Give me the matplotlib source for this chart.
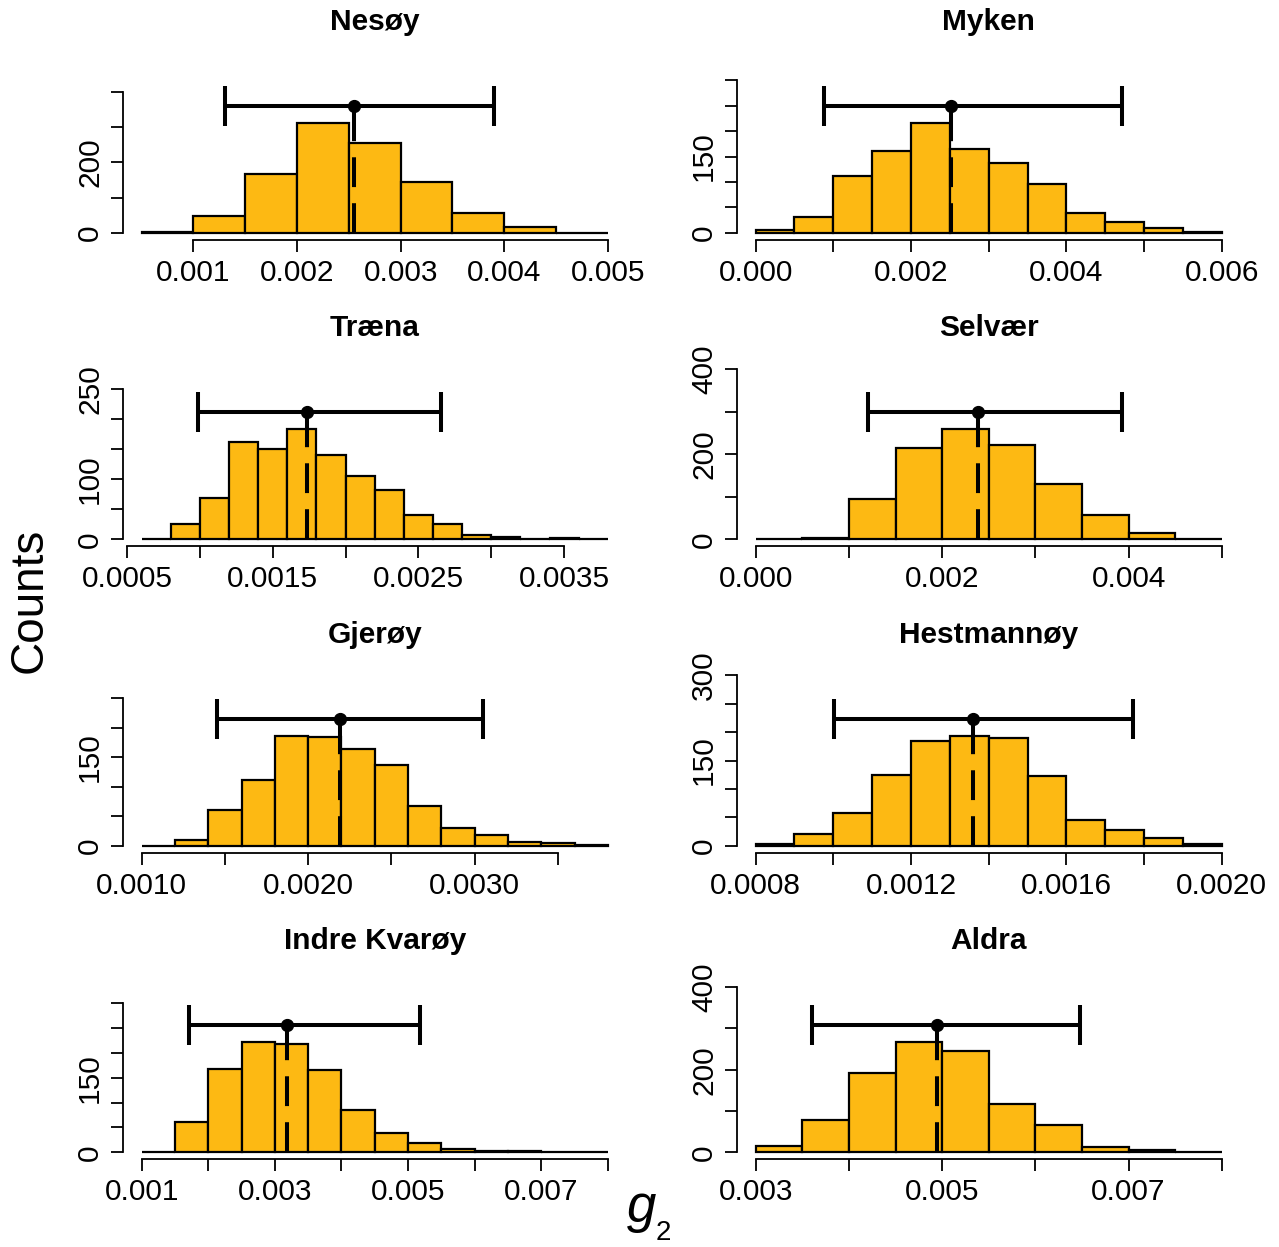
import matplotlib
matplotlib.use("Agg")
import matplotlib.pyplot as plt
import numpy as np

plt.rcParams['font.family'] = ['Liberation Sans', 'DejaVu Sans']

# one entry per island, row by row
names = ['Nesøy', 'Myken', 'Træna', 'Selvær',
         'Gjerøy', 'Hestmannøy', 'Indre Kvarøy', 'Aldra']
bin_start = [0.0005, 0.0, 0.0006, 0.0, 0.0010, 0.0008, 0.0010, 0.0030]
bin_width = [0.0005, 0.0005, 0.0002, 0.0005, 0.0002, 0.0001, 0.0005, 0.0005]
counts = [
    [1, 47, 166, 313, 254, 145, 57, 16, 0],
    [5, 32, 112, 160, 217, 164, 137, 97, 38, 22, 9, 1],
    [1, 25, 69, 163, 151, 184, 140, 105, 82, 41, 25, 7, 4, 0, 2, 0],
    [0, 3, 94, 214, 259, 222, 131, 56, 14, 1],
    [0, 9, 60, 111, 187, 184, 165, 137, 68, 31, 18, 7, 5, 1],
    [4, 21, 58, 125, 185, 194, 190, 123, 46, 27, 14, 3],
    [0, 62, 168, 222, 219, 166, 85, 39, 18, 6, 3, 2, 1, 0],
    [16, 77, 193, 267, 246, 116, 65, 13, 5, 0],
]
means = [0.00255, 0.00252, 0.001734, 0.00238, 0.002192, 0.00136, 0.003179, 0.00495]
ci_lo = [0.0013, 0.00088, 0.00099, 0.0012, 0.001453, 0.001001, 0.001709, 0.0036]
ci_hi = [0.0039, 0.00471, 0.002658, 0.00393, 0.003053, 0.001772, 0.005184, 0.006478]

x_ticks = [
    [0.001, 0.002, 0.003, 0.004, 0.005],
    [0.000, 0.001, 0.002, 0.003, 0.004, 0.005, 0.006],
    [0.0005, 0.0010, 0.0015, 0.0020, 0.0025, 0.0030, 0.0035],
    [0.000, 0.001, 0.002, 0.003, 0.004, 0.005],
    [0.0010, 0.0015, 0.0020, 0.0025, 0.0030, 0.0035],
    [0.0008, 0.0010, 0.0012, 0.0014, 0.0016, 0.0018, 0.0020],
    [0.001, 0.002, 0.003, 0.004, 0.005, 0.006, 0.007, 0.008],
    [0.003, 0.004, 0.005, 0.006, 0.007, 0.008],
]
x_labels = [
    ['0.001', '0.002', '0.003', '0.004', '0.005'],
    ['0.000', '', '0.002', '', '0.004', '', '0.006'],
    ['0.0005', '', '0.0015', '', '0.0025', '', '0.0035'],
    ['0.000', '', '0.002', '', '0.004', ''],
    ['0.0010', '', '0.0020', '', '0.0030', ''],
    ['0.0008', '', '0.0012', '', '0.0016', '', '0.0020'],
    ['0.001', '', '0.003', '', '0.005', '', '0.007', ''],
    ['0.003', '', '0.005', '', '0.007', ''],
]
y_ticks = [
    [0, 100, 200, 300, 400],
    [0, 50, 100, 150, 200, 250, 300],
    [0, 50, 100, 150, 200, 250],
    [0, 100, 200, 300, 400],
    [0, 50, 100, 150, 200, 250],
    [0, 50, 100, 150, 200, 250, 300],
    [0, 50, 100, 150, 200, 250, 300],
    [0, 100, 200, 300, 400],
]
y_labels = [
    ['0', '', '200', '', ''],
    ['0', '', '', '150', '', '', ''],
    ['0', '', '100', '', '', '250'],
    ['0', '', '200', '', '400'],
    ['0', '', '', '150', '', ''],
    ['0', '', '', '150', '', '', '300'],
    ['0', '', '', '150', '', '', ''],
    ['0', '', '200', '', '400'],
]

bar_color = '#FDB913'
W, Hf = 1279, 1247
col_left = [123, 737]
row_bottom = [239.5, 546, 852.5, 1159]
panel_w, panel_h = 503.5, 181

fig = plt.figure(figsize=(W / 100, Hf / 100), dpi=100)

for i, name in enumerate(names):
    r, c = divmod(i, 2)
    ax = fig.add_axes([col_left[c] / W, 1 - row_bottom[r] / Hf, panel_w / W, panel_h / Hf])
    cts = np.array(counts[i])
    edges = bin_start[i] + bin_width[i] * np.arange(len(cts) + 1)

    ax.bar(edges[:-1], cts, width=bin_width[i], align='edge', color=bar_color,
           edgecolor='black', linewidth=1.6, zorder=2)

    top = cts.max() * 1.52
    bar_y = cts.max() * 1.15
    xr = edges[-1] - edges[0]
    ax.set_xlim(edges[0] - 0.04 * xr, edges[-1] + 0.04 * xr)
    ax.set_ylim(-0.04 * top, top * 1.04)

    # mean line and interval
    ax.plot([means[i], means[i]], [0, bar_y], color='black', lw=2.9,
            ls=(0, (7.4, 4.0)), solid_capstyle='butt', zorder=3)
    ax.errorbar(means[i], bar_y, xerr=[[means[i] - ci_lo[i]], [ci_hi[i] - means[i]]],
                fmt='o', color='black', ms=8.5, elinewidth=2.9, capsize=14.4,
                capthick=2.9, zorder=4)

    for s in ['top', 'right']:
        ax.spines[s].set_visible(False)
    ax.spines['left'].set_bounds(0, y_ticks[i][-1])
    ax.spines['bottom'].set_bounds(x_ticks[i][0], x_ticks[i][-1])
    ax.spines['left'].set_linewidth(1.3)
    ax.spines['bottom'].set_linewidth(1.3)

    ax.set_xticks(x_ticks[i])
    ax.set_xticklabels(x_labels[i])
    ax.set_yticks(y_ticks[i])
    ax.set_yticklabels(y_labels[i], rotation=90, va='center')
    ax.tick_params(axis='both', direction='out', length=8.5, width=1.3, labelsize=21.5)
    ax.tick_params(axis='x', pad=5.5)
    ax.tick_params(axis='y', pad=5)
    ax.patch.set_visible(False)

    ax.text(0.5, 1.16, name, transform=ax.transAxes, ha='center', va='baseline',
            fontsize=21.5, fontweight='bold')

fig.text(30 / W, 1 - 600 / Hf, 'Counts', rotation=90, fontsize=33,
         ha='center', va='center')
fig.text(627 / W, 1 - 1222 / Hf, 'g', fontsize=38, style='italic',
         ha='left', va='baseline')
fig.text(656 / W, 1 - 1240 / Hf, '2', fontsize=20, ha='left', va='baseline')

fig.savefig('out.png', dpi=100)
